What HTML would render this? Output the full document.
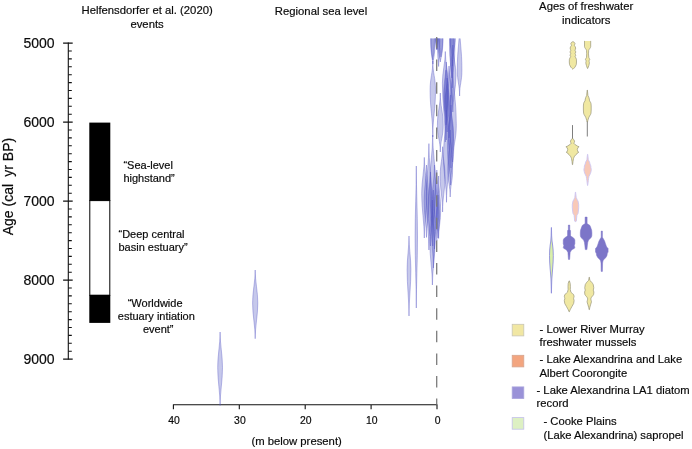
<!DOCTYPE html>
<html><head><meta charset="utf-8"><title>Figure</title>
<style>
html,body{margin:0;padding:0;background:#fff}
body{width:692px;height:449px;overflow:hidden}
svg{display:block;will-change:transform}
text{font-family:"Liberation Sans",sans-serif;fill:#0a0a0a;stroke:#0a0a0a;stroke-width:.18px}
.t{font-size:11.3px}
.yl{font-size:14px}
.xl{font-size:10.4px}
.ev{font-size:11px}
.lg{font-size:11.25px}
.sl path{fill:#4e55c0;fill-opacity:.32;stroke:#5658c4;stroke-opacity:.7;stroke-width:.55}
</style></head><body>
<svg width="692" height="449" viewBox="0 0 692 449">
<rect width="692" height="449" fill="#fff"/>
<defs><clipPath id="cp"><rect x="150" y="38.5" width="400" height="367"/></clipPath></defs>

<g class="t" text-anchor="middle">
<text x="147.1" y="14.3">Helfensdorfer et al. (2020)</text>
<text x="147.1" y="28.2">events</text>
<text x="321" y="14.6">Regional sea level</text>
<text x="586.2" y="10.3">Ages of freshwater</text>
<text x="586.3" y="23.9">indicators</text>
<text x="296.6" y="445.3">(m below present)</text>
</g>
<g stroke="#111" stroke-width="1.1" fill="none">
<path d="M68.3 42.6 V359.6"/>
<path d="M63.1 43.1H72.7M68.3 51H71.8M68.3 58.9H71.8M68.3 66.8H71.8M68.3 74.7H71.8M68.3 82.6H71.8M68.3 90.5H71.8M68.3 98.4H71.8M68.3 106.3H71.8M68.3 114.2H71.8M63.1 122.1H72.7M68.3 130H71.8M68.3 137.9H71.8M68.3 145.8H71.8M68.3 153.7H71.8M68.3 161.6H71.8M68.3 169.5H71.8M68.3 177.4H71.8M68.3 185.3H71.8M68.3 193.2H71.8M63.1 201.1H72.7M68.3 209H71.8M68.3 216.9H71.8M68.3 224.8H71.8M68.3 232.7H71.8M68.3 240.6H71.8M68.3 248.5H71.8M68.3 256.4H71.8M68.3 264.3H71.8M68.3 272.2H71.8M63.1 280.1H72.7M68.3 288H71.8M68.3 295.9H71.8M68.3 303.8H71.8M68.3 311.7H71.8M68.3 319.6H71.8M68.3 327.5H71.8M68.3 335.4H71.8M68.3 343.3H71.8M68.3 351.2H71.8M63.1 359.1H72.7"/>
</g>
<g class="yl" text-anchor="end">
<text x="54.6" y="48.1">5000</text>
<text x="54.6" y="127.1">6000</text>
<text x="54.6" y="206.1">7000</text>
<text x="54.6" y="285.1">8000</text>
<text x="54.6" y="364.1">9000</text>
</g>
<text class="yl" transform="translate(13.2,235.3) rotate(-90)">Age (cal</text>
<text class="yl" transform="translate(13.2,137.8) rotate(-90)" text-anchor="end">yr BP)</text>
<rect x="89.3" y="122.6" width="21" height="78.4" fill="#000"/>
<rect x="89.8" y="200.6" width="20" height="94.6" fill="#fff" stroke="#000" stroke-width="1"/>
<rect x="89.3" y="295" width="21" height="27.9" fill="#000"/>
<g class="ev">
<text x="123.4" y="168.9">“Sea-level</text>
<text x="123.4" y="181.9">highstand”</text>
<text x="118.5" y="237.5">“Deep central</text>
<text x="118.5" y="250.5">basin estuary”</text>
<text x="155.1" y="306.6" text-anchor="middle">“Worldwide</text>
<text x="156.3" y="320" text-anchor="middle">estuary intiation</text>
<text x="158.2" y="333" text-anchor="middle">event”</text>
</g>
<g stroke="#111" stroke-width="1.1" fill="none">
<path d="M172.9 404.7H437.5M173.4 404.7V409.2M239.3 404.7V409.2M305.2 404.7V409.2M371.1 404.7V409.2M437 404.7V409.2"/>
</g>
<g class="xl" text-anchor="middle">
<text x="174" y="423.9">40</text>
<text x="239.9" y="423.9">30</text>
<text x="305.8" y="423.9">20</text>
<text x="371.7" y="423.9">10</text>
<text x="437.6" y="423.9">0</text>
</g>
<g class="sl" clip-path="url(#cp)">
<path d="M220.1 332C220.1 344.8 222.5 354.7 222.5 367.5C222.5 381.4 220.1 392.1 220.1 406C220.1 392.1 217.7 381.4 217.7 367.5C217.7 354.7 220.1 344.8 220.1 332Z"/>
<path d="M255.2 270C255.2 281.9 257.8 291.1 257.8 303C257.8 315.8 255.2 325.8 255.2 338.7C255.2 325.8 252.6 315.8 252.6 303C252.6 291.1 255.2 281.9 255.2 270Z"/>
<path d="M409 236C409 248.1 410.9 257.5 410.9 269.6C410.9 286.3 409 299.3 409 316C409 299.3 407.1 286.3 407.1 269.6C407.1 257.5 409 248.1 409 236Z"/>
<path d="M416.3 166C416.3 191.6 417.5 211.4 417.5 237C417.5 262.6 416.3 282.4 416.3 308C416.3 282.4 415.1 262.6 415.1 237C415.1 211.4 416.3 191.6 416.3 166Z"/>
<path d="M432.9 8C432.9 12.2 435.2 15 435.2 36C435.2 57 432.9 59.8 432.9 64C432.9 59.8 430.6 57 430.6 36C430.6 15 432.9 12.2 432.9 8Z"/>
<path d="M432.7 15C432.7 18.4 434.4 20.6 434.4 37.5C434.4 54.4 432.7 56.6 432.7 60C432.7 56.6 431 54.4 431 37.5C431 20.6 432.7 18.4 432.7 15Z"/>
<path d="M436.8 20C436.8 22.2 438.3 23.7 438.3 34.9C438.3 46.1 436.8 47.6 436.8 49.8C436.8 47.6 435.3 46.1 435.3 34.9C435.3 23.7 436.8 22.2 436.8 20Z"/>
<path d="M436.8 22C436.8 28.9 438 28.9 438 35.8C438 42.6 436.8 42.6 436.8 49.5C436.8 42.6 435.6 42.6 435.6 35.8C435.6 28.9 436.8 28.9 436.8 22Z"/>
<path d="M436.9 24C436.9 30.2 437.9 30.2 437.9 36.5C437.9 42.8 436.9 42.8 436.9 49C436.9 42.8 435.9 42.8 435.9 36.5C435.9 30.2 436.9 30.2 436.9 24Z"/>
<path d="M440.4 5C440.4 9.7 443 12.8 443 36.4C443 55.6 440.4 58.2 440.4 62C440.4 58.2 437.8 55.6 437.8 36.4C437.8 12.8 440.4 9.7 440.4 5Z"/>
<path d="M440.9 12C440.9 15.7 442.7 18.2 442.7 36.8C442.7 51.9 440.9 54 440.9 57C440.9 54 439.1 51.9 439.1 36.8C439.1 18.2 440.9 15.7 440.9 12Z"/>
<path d="M438.6 10C438.6 14.2 439.8 17.1 439.8 38.2C439.8 59.4 438.6 62.3 438.6 66.5C438.6 62.3 437.4 59.4 437.4 38.2C437.4 17.1 438.6 14.2 438.6 10Z"/>
<path d="M445.3 51.5C445.3 62.9 448.2 71.8 448.2 83.2C448.2 104.4 445.3 120.8 445.3 142C445.3 120.8 442.4 104.4 442.4 83.2C442.4 71.8 445.3 62.9 445.3 51.5Z"/>
<path d="M446.3 62C446.3 73.2 448.9 82 448.9 93.2C448.9 110 446.3 123.2 446.3 140C446.3 123.2 443.7 110 443.7 93.2C443.7 82 446.3 73.2 446.3 62Z"/>
<path d="M446 70C446 79.9 448 87.6 448 97.5C448 107.4 446 115.1 446 125C446 115.1 444 107.4 444 97.5C444 87.6 446 79.9 446 70Z"/>
<path d="M449 66C449 77.7 452.4 86.7 452.4 98.4C452.4 112.7 449 123.7 449 138C449 123.7 445.6 112.7 445.6 98.4C445.6 86.7 449 77.7 449 66Z"/>
<path d="M452.8 45C452.8 55.9 456 64.3 456 75.2C456 88.4 452.8 98.7 452.8 112C452.8 98.7 449.6 88.4 449.6 75.2C449.6 64.3 452.8 55.9 452.8 45Z"/>
<path d="M447.2 78C447.2 86.7 449.4 93.6 449.4 102.3C449.4 113 447.2 121.3 447.2 132C447.2 121.3 445 113 445 102.3C445 93.6 447.2 86.7 447.2 78Z"/>
<path d="M452.5 -5C452.5 12.8 455.8 12.8 455.8 30.5C455.8 48.2 452.5 48.2 452.5 66C452.5 48.2 449.2 48.2 449.2 30.5C449.2 12.8 452.5 12.8 452.5 -5Z"/>
<path d="M452.3 10C452.3 27.6 454.8 31.4 454.8 49C454.8 66.5 452.3 70.5 452.3 88C452.3 70.5 449.8 66.5 449.8 49C449.8 31.4 452.3 27.6 452.3 10Z"/>
<path d="M451.8 15C451.8 29.2 453.7 32.3 453.7 46.5C453.7 60.7 451.8 63.8 451.8 78C451.8 63.8 449.9 60.7 449.9 46.5C449.9 32.3 451.8 29.2 451.8 15Z"/>
<path d="M459.6 22C459.6 43.6 461.9 48.5 461.9 70.1C461.9 81.8 459.6 84.3 459.6 96C459.6 84.3 457.3 81.8 457.3 70.1C457.3 48.5 459.6 43.6 459.6 22Z"/>
<path d="M432.8 61C432.8 73.1 435.5 77.8 435.5 89.9C435.5 109.7 432.8 117.2 432.8 137C432.8 117.2 430.1 109.7 430.1 89.9C430.1 77.8 432.8 73.1 432.8 61Z"/>
<path d="M440.3 93C440.3 106.6 443.2 111.8 443.2 125.5C443.2 136.6 440.3 140.8 440.3 152C440.3 140.8 437.4 136.6 437.4 125.5C437.4 111.8 440.3 106.6 440.3 93Z"/>
<path d="M442.6 146.7C442.6 159 445 163.7 445 176.1C445 191.2 442.6 196.9 442.6 212C442.6 196.9 440.2 191.2 440.2 176.1C440.2 163.7 442.6 159 442.6 146.7Z"/>
<path d="M446.5 110C446.5 129.4 449.5 136.8 449.5 156.2C449.5 175.5 446.5 182.9 446.5 202.3C446.5 182.9 443.5 175.5 443.5 156.2C443.5 136.8 446.5 129.4 446.5 110Z"/>
<path d="M450.6 95C450.6 117.7 453.7 126.3 453.7 149C453.7 164.1 450.6 169.9 450.6 185C450.6 169.9 447.5 164.1 447.5 149C447.5 126.3 450.6 117.7 450.6 95Z"/>
<path d="M450.2 130C450.2 146.9 452.6 153.3 452.6 170.2C452.6 181.5 450.2 185.7 450.2 197C450.2 185.7 447.8 181.5 447.8 170.2C447.8 153.3 450.2 146.9 450.2 130Z"/>
<path d="M450.9 105C450.9 116.9 453.5 121.4 453.5 133.3C453.5 147.9 450.9 153.4 450.9 168C450.9 153.4 448.3 147.9 448.3 133.3C448.3 121.4 450.9 116.9 450.9 105Z"/>
<path d="M452.6 60C452.6 87.4 456.3 97.9 456.3 125.3C456.3 140.7 452.6 146.6 452.6 162C452.6 146.6 448.9 140.7 448.9 125.3C448.9 97.9 452.6 87.4 452.6 60Z"/>
<path d="M432.7 135C432.7 153 435.7 167 435.7 184.9C435.7 206.9 432.7 224 432.7 246C432.7 224 429.7 206.9 429.7 184.9C429.7 167 432.7 153 432.7 135Z"/>
<path d="M428.9 143.6C428.9 162.8 431.5 177.6 431.5 196.8C431.5 216 428.9 230.8 428.9 250C428.9 230.8 426.3 216 426.3 196.8C426.3 177.6 428.9 162.8 428.9 143.6Z"/>
<path d="M424.3 157.4C424.3 170.5 426.9 180.6 426.9 193.7C426.9 209.6 424.3 222 424.3 238C424.3 222 421.7 209.6 421.7 193.7C421.7 180.6 424.3 170.5 424.3 157.4Z"/>
<path d="M426.5 165C426.5 178 428.9 188.2 428.9 201.2C428.9 214.2 426.5 224.4 426.5 237.4C426.5 224.4 424.1 214.2 424.1 201.2C424.1 188.2 426.5 178 426.5 165Z"/>
<path d="M430.5 172C430.5 185.3 433.1 195.7 433.1 209C433.1 222.3 430.5 232.7 430.5 246C430.5 232.7 427.9 222.3 427.9 209C427.9 195.7 430.5 185.3 430.5 172Z"/>
<path d="M432.4 200C432.4 215.3 435 227.2 435 242.5C435 257.8 432.4 269.7 432.4 285C432.4 269.7 429.8 257.8 429.8 242.5C429.8 227.2 432.4 215.3 432.4 200Z"/>
<path d="M434.5 165C434.5 180.1 437.5 191.9 437.5 207C437.5 222.1 434.5 233.9 434.5 249C434.5 233.9 431.5 222.1 431.5 207C431.5 191.9 434.5 180.1 434.5 165Z"/>
<path d="M433.4 190C433.4 204 435.4 215 435.4 229C435.4 243 433.4 254 433.4 268C433.4 254 431.4 243 431.4 229C431.4 215 433.4 204 433.4 190Z"/>
<path d="M436.8 170C436.8 182.8 439.3 192.7 439.3 205.5C439.3 218.3 436.8 228.2 436.8 241C436.8 228.2 434.3 218.3 434.3 205.5C434.3 192.7 436.8 182.8 436.8 170Z"/>
<path d="M438.6 176C438.6 188.4 440.7 198 440.7 210.4C440.7 220.5 438.6 228.4 438.6 238.5C438.6 228.4 436.5 220.5 436.5 210.4C436.5 198 438.6 188.4 438.6 176Z"/>
<path d="M438 195C438 203.5 439.6 210.1 439.6 218.7C439.6 225.6 438 231 438 238C438 231 436.4 225.6 436.4 218.7C436.4 210.1 438 203.5 438 195Z"/>
</g>
<path d="M436.7 37V404.5" stroke="#7c7c7c" stroke-width="1.3" stroke-dasharray="11.5 11.1" fill="none"/>
<rect x="512.2" y="324.3" width="11.6" height="11.6" fill="#f1e7a3" stroke="#c9c6b4" stroke-width=".8"/>
<rect x="512.2" y="355.3" width="11.6" height="11.6" fill="#f3a57f" stroke="#d6a58f" stroke-width=".8"/>
<rect x="512.2" y="386.9" width="11.6" height="11.6" fill="#9a92d8" stroke="#a9a3dd" stroke-width=".8"/>
<rect x="512.2" y="417.6" width="11.6" height="11.6" fill="#ddf0c3" stroke="#c3c0ea" stroke-width=".8"/>
<g class="lg">
<text x="539.6" y="333.2">- Lower River Murray</text>
<text x="539.6" y="346.2">freshwater mussels</text>
<text x="539.6" y="363.3">- Lake Alexandrina and Lake</text>
<text x="539.6" y="377.2">Albert Coorongite</text>
<text x="536.5" y="394.2">- Lake Alexandrina LA1 diatom</text>
<text x="536.5" y="407">record</text>
<text x="543.4" y="425.2">- Cooke Plains</text>
<text x="543.4" y="439.1">(Lake Alexandrina) sapropel</text>
</g>
<path d="M573.4 41.8L574.2 42.3L575 43.4L574.7 44.4L574.3 45.3L575.1 46.5L575.7 48L575.4 49.3L575 50.3L575.5 51.2L575.8 52L575.4 53L575 53.8L575.5 54.5L575.8 55.2L575.4 56L575.1 56.7L575.8 57.8L576.4 59.2L576.5 62L576.3 64.5L575.6 66L574.9 67.2L573.9 68.3L573 69.2L572.8 69.2L571.9 68.3L570.9 67.2L570.2 66L569.5 64.5L569.3 62L569.4 59.2L570 57.8L570.7 56.7L570.4 56L570 55.2L570.3 54.5L570.8 53.8L570.4 53L570 52L570.3 51.2L570.8 50.3L570.4 49.3L570.1 48L570.7 46.5L571.5 45.3L571.1 44.4L570.8 43.4L571.6 42.3L572.4 41.8Z" fill="#f0e8a2" stroke="#928e74" stroke-width=".65" stroke-linejoin="round"/>
<path d="M590.7 40.9L590.7 46.7L590.4 47.6L589.8 48.5L589.1 49.5L588.67 50.3L588.5 53.8L588.75 57.4L589.3 58.4L589.8 59.3L589.4 60.2L588.95 60.9L589.2 61.8L589.4 62.7L589.2 64L588.85 65.4L588.3 67L587.7 68.5L587.5 68.5L586.9 67L586.35 65.4L586 64L585.8 62.7L586 61.8L586.25 60.9L585.8 60.2L585.4 59.3L585.9 58.4L586.45 57.4L586.7 53.8L586.53 50.3L586.1 49.5L585.4 48.5L584.8 47.6L584.5 46.7L584.5 40.9Z" fill="#f0e8a2" stroke="none"/>
<path d="M590.7 40.9L590.7 46.7L590.4 47.6L589.8 48.5L589.1 49.5L588.7 50.3L588.5 53.8L588.8 57.4L589.3 58.4L589.8 59.3L589.4 60.2L589 60.9L589.2 61.8L589.4 62.7L589.2 64L588.9 65.4L588.3 67L587.7 68.5L587.5 68.5L586.9 67L586.4 65.4L586 64L585.8 62.7L586 61.8L586.2 60.9L585.8 60.2L585.4 59.3L585.9 58.4L586.5 57.4L586.7 53.8L586.5 50.3L586.1 49.5L585.4 48.5L584.8 47.6L584.5 46.7L584.5 40.9" fill="none" stroke="#928e74" stroke-width=".65" stroke-linejoin="round"/>
<path d="M587.3 121V136.5" stroke="#6f6f6f" stroke-width=".9" fill="none"/>
<path d="M587.4 90.1L587.7 93L587.9 95.4L588.8 97.3L589.3 99L589.6 100.9L590.5 102.2L591 103.6L591.2 106L591.2 110L591 113.2L590.5 114.6L589.6 116L588.9 117.3L588.3 119L587.9 120.3L587.6 121.8L587 121.8L586.7 120.3L586.3 119L585.7 117.3L585 116L584.1 114.6L583.6 113.2L583.4 110L583.4 106L583.6 103.6L584.1 102.2L585 100.9L585.3 99L585.8 97.3L586.7 95.4L586.9 93L587.2 90.1Z" fill="#f0e8a2" stroke="#928e74" stroke-width=".65" stroke-linejoin="round"/>
<path d="M572.5 125.1V139" stroke="#6f6f6f" stroke-width=".9" fill="none"/>
<path d="M572.8 138.4L573.4 139.2L574.6 141.1L574.3 142.3L573.9 143.3L574.6 144.2L576 145.1L577.3 146L579.1 146.8L577.9 147.6L577.3 149.4L577.6 150.8L577.8 151.6L578.8 152.2L577.5 152.9L576.6 154.3L575.4 155.2L574.6 156.1L574 157.3L573.5 158.6L573 161.6L572.6 164.7L572.4 164.7L572 161.6L571.5 158.6L571 157.3L570.4 156.1L569.6 155.2L568.4 154.3L567.5 152.9L566.2 152.2L567.2 151.6L567.4 150.8L567.7 149.4L567.1 147.6L565.9 146.8L567.7 146L569 145.1L570.4 144.2L571.1 143.3L570.7 142.3L570.4 141.1L571.6 139.2L572.2 138.4Z" fill="#f0e8a2" stroke="#928e74" stroke-width=".65" stroke-linejoin="round"/>
<path d="M587.7 154.3L588 157L588.3 159.8L589.6 162.2L590 164L590.8 165.9L590.9 167.5L591.3 169.6L591 171.5L590.5 173.3L589.7 175L589 176.3L588.6 178.5L588.3 180.6L587.7 185.5L587.5 185.5L586.9 180.6L586.6 178.5L586.2 176.3L585.5 175L584.7 173.3L584.2 171.5L583.9 169.6L584.3 167.5L584.4 165.9L585.2 164L585.6 162.2L586.9 159.8L587.2 157L587.5 154.3Z" fill="#f8c9b8" stroke="#cdc6f3" stroke-width=".9" stroke-linejoin="round"/>
<path d="M575.6 192.1L575.9 195L576.2 197.5L577.1 199.5L578 201L578.7 204.6L578.7 207.5L578.5 210L578 213.5L577.4 214.5L576.9 215.3L576.6 218L576.4 221L575.9 221.6L575.1 221.6L574.6 221L574.4 218L574.1 215.3L573.6 214.5L573 213.5L572.5 210L572.3 207.5L572.3 204.6L573 201L573.9 199.5L574.8 197.5L575.1 195L575.4 192.1Z" fill="#f8c9b8" stroke="#cdc6f3" stroke-width=".9" stroke-linejoin="round"/>
<path d="M569.75 225.1L569.75 230L570.55 230.5L570.55 235.8L571.45 236.6L572.65 237.3L573.55 237.9L574.25 238.8L574.85 239.9L574.85 243.9L574.25 245.2L574.55 246.4L574.85 247.4L574.25 248.5L572.65 249.2L571.25 250.6L570.15 252.4L569.95 255.5L569.65 259.4L568.45 259.4L568.15 255.5L567.95 252.4L566.85 250.6L565.45 249.2L563.85 248.5L563.25 247.4L563.55 246.4L563.85 245.2L563.25 243.9L563.25 239.9L563.85 238.8L564.55 237.9L565.45 237.3L566.65 236.6L567.55 235.8L567.55 230.5L568.35 230L568.35 225.1Z" fill="#7c75c8" stroke="#7c75c8" stroke-width=".5" stroke-linejoin="round"/>
<path d="M587.1 217.1L587.1 223.6L588.1 224.3L589.7 225.2L590.5 226.8L591.1 228.6L591.7 230.3L591.9 233L591.85 235.5L591.4 237.3L589.9 238.7L588.6 240.1L587.8 242.2L587.4 245L586.95 249.6L585.25 249.6L584.8 245L584.4 242.2L583.6 240.1L582.3 238.7L580.8 237.3L580.35 235.5L580.3 233L580.5 230.3L581.1 228.6L581.7 226.8L582.5 225.2L584.1 224.3L585.1 223.6L585.1 217.1Z" fill="#7c75c8" stroke="#7c75c8" stroke-width=".5" stroke-linejoin="round"/>
<path d="M602.4 231.1L602.4 237.2L603 238.2L603.65 239.3L604.7 241.3L605.4 243.4L606.1 245.4L606.7 247L608.1 248.5L608.1 252.1L607.4 253.1L606.9 255.7L605.7 257.7L604.1 259.3L603 260.8L602.6 263L602.4 271.4L601.2 271.4L601 263L600.6 260.8L599.5 259.3L597.9 257.7L596.7 255.7L596.2 253.1L595.5 252.1L595.5 248.5L596.9 247L597.5 245.4L598.2 243.4L598.9 241.3L599.95 239.3L600.6 238.2L601.2 237.2L601.2 231.1Z" fill="#7c75c8" stroke="#7c75c8" stroke-width=".5" stroke-linejoin="round"/>
<path d="M551.45 227.5L551.65 236L552 241L552.6 245L553.1 250L553.3 255.7L553.1 262L552.7 268L552.2 274L551.8 279L551.6 285L551.45 293.2L551.35 293.2L551.2 285L551 279L550.6 274L550.1 268L549.7 262L549.5 255.7L549.7 250L550.2 245L550.8 241L551.15 236L551.35 227.5Z" fill="#d9f0a8" stroke="#8d8ddc" stroke-width=".9" stroke-linejoin="round"/>
<path d="M569.4 280.9L570.2 283.4L570.4 286.4L570.3 289.5L570.9 292.2L572.2 293.4L573.5 294.4L574.1 296.2L573.8 297.6L573.6 298.7L574.1 300.5L573.9 302L573.6 303.6L572.8 305L571.9 306.6L571 308.2L570.2 309.7L569.3 311.8L569.1 311.8L568.2 309.7L567.4 308.2L566.5 306.6L565.6 305L564.8 303.6L564.5 302L564.3 300.5L564.8 298.7L564.6 297.6L564.3 296.2L564.9 294.4L566.2 293.4L567.5 292.2L568.1 289.5L568 286.4L568.2 283.4L569 280.9Z" fill="#f0e8a2" stroke="#928e74" stroke-width=".65" stroke-linejoin="round"/>
<path d="M589.35 277.2L589.85 280.3L590.75 281.2L591.7 282.2L592.55 283.4L593.25 284.6L593.75 287.7L593.55 289L593.25 290.1L593.55 291L593.9 292L593.65 294.4L593.05 295.4L592.35 296.2L591.55 297.2L590.95 298.1L590.95 299.9L591.25 300.8L591.45 301.8L591.15 303L590.75 304.2L589.85 307.3L589.35 309.7L589.15 309.7L588.65 307.3L587.75 304.2L587.35 303L587.05 301.8L587.25 300.8L587.55 299.9L587.55 298.1L586.95 297.2L586.15 296.2L585.45 295.4L584.85 294.4L584.6 292L584.95 291L585.25 290.1L584.95 289L584.75 287.7L585.25 284.6L585.95 283.4L586.8 282.2L587.75 281.2L588.65 280.3L589.15 277.2Z" fill="#f0e8a2" stroke="#928e74" stroke-width=".65" stroke-linejoin="round"/>
</svg>
</body></html>
